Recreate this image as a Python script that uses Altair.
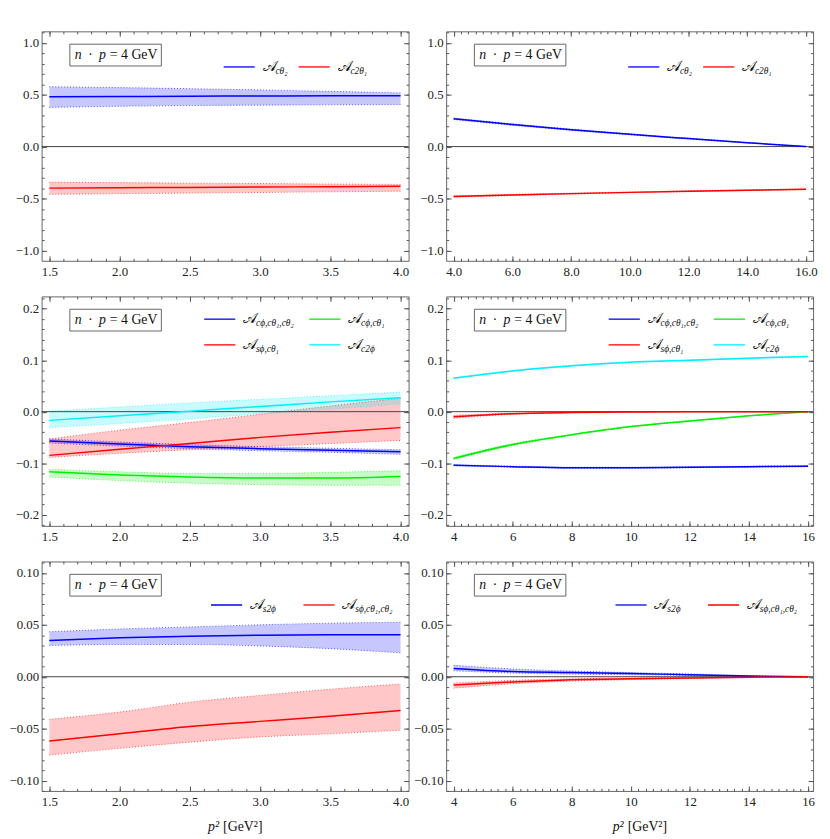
import altair as alt
import pandas as pd

W, H = 371, 232
REFW = 377.0
K = W / REFW

# ---------------- data ----------------
x_left = [1.5, 2.0, 2.5, 3.0, 3.5, 4.0]
x_right = [4, 6, 8, 10, 12, 14, 16]

# top-left
tl_b_mid = [0.479, 0.482, 0.485, 0.487, 0.489, 0.490]
tl_b_hi = [0.577, 0.568, 0.558, 0.546, 0.532, 0.517]
tl_b_lo = [0.377, 0.388, 0.395, 0.399, 0.402, 0.405]
tl_r_mid = [-0.400, -0.397, -0.393, -0.390, -0.386, -0.383]
tl_r_hi = [-0.342, -0.347, -0.352, -0.356, -0.360, -0.364]
tl_r_lo = [-0.460, -0.454, -0.448, -0.442, -0.436, -0.430]

# top-right
tr_b_mid = [0.268, 0.212, 0.163, 0.118, 0.077, 0.037, 0.0]
tr_b_hi = [0.276, 0.219, 0.169, 0.123, 0.081, 0.040, 0.001]
tr_b_lo = [0.260, 0.205, 0.157, 0.113, 0.073, 0.034, -0.001]
tr_r_mid = [-0.480, -0.466, -0.453, -0.441, -0.430, -0.420, -0.412]
tr_r_hi = [-0.473, -0.460, -0.448, -0.437, -0.426, -0.417, -0.409]
tr_r_lo = [-0.487, -0.472, -0.458, -0.445, -0.434, -0.423, -0.415]

# middle-left
ml_b_mid = [-0.057, -0.063, -0.068, -0.072, -0.075, -0.078]
ml_b_hi = [-0.053, -0.059, -0.064, -0.068, -0.071, -0.074]
ml_b_lo = [-0.061, -0.067, -0.072, -0.076, -0.079, -0.083]
ml_g_mid = [-0.117, -0.123, -0.127, -0.129, -0.129, -0.126]
ml_g_hi = [-0.112, -0.117, -0.120, -0.120, -0.118, -0.115]
ml_g_lo = [-0.127, -0.134, -0.139, -0.142, -0.143, -0.143]
ml_r_mid = [-0.085, -0.073, -0.062, -0.050, -0.040, -0.031]
ml_r_hi = [-0.053, -0.036, -0.021, -0.005, 0.011, 0.026]
ml_r_lo = [-0.089, -0.081, -0.074, -0.068, -0.062, -0.056]
ml_c_mid = [-0.017, -0.008, 0.001, 0.010, 0.019, 0.027]
ml_c_hi = [0.001, 0.009, 0.017, 0.024, 0.031, 0.038]
ml_c_lo = [-0.031, -0.023, -0.014, -0.004, 0.005, 0.015]

# middle-right
mr_b_mid = [-0.104, -0.107, -0.109, -0.109, -0.108, -0.107, -0.106]
mr_b_hi = [-0.103, -0.106, -0.108, -0.108, -0.107, -0.106, -0.105]
mr_b_lo = [-0.105, -0.108, -0.110, -0.110, -0.109, -0.108, -0.107]
mr_g_mid = [-0.091, -0.064, -0.045, -0.029, -0.018, -0.008, 0.0]
mr_g_hi = [-0.089, -0.062, -0.044, -0.028, -0.017, -0.0075, 0.0]
mr_g_lo = [-0.093, -0.066, -0.046, -0.030, -0.019, -0.0085, 0.0]
mr_r_mid = [-0.010, -0.004, -0.0015, -0.0007, -0.0002, 0.0, 0.0]
mr_r_hi = [-0.007, -0.003, -0.001, -0.0004, -0.0001, 0.0, 0.0]
mr_r_lo = [-0.013, -0.005, -0.002, -0.001, -0.0003, 0.0, 0.0]
mr_c_mid = [0.065, 0.079, 0.089, 0.096, 0.100, 0.104, 0.107]
mr_c_hi = [0.066, 0.080, 0.090, 0.097, 0.101, 0.105, 0.108]
mr_c_lo = [0.064, 0.078, 0.088, 0.095, 0.099, 0.103, 0.106]

# bottom-left
bl_b_mid = [0.0350, 0.0376, 0.0390, 0.0400, 0.0405, 0.0405]
bl_b_hi = [0.0433, 0.0460, 0.0480, 0.0500, 0.0516, 0.0525]
bl_b_lo = [0.0300, 0.0310, 0.0310, 0.0296, 0.0270, 0.0230]
bl_r_mid = [-0.0620, -0.0550, -0.0480, -0.0430, -0.0380, -0.0325]
bl_r_hi = [-0.0410, -0.0340, -0.0245, -0.0180, -0.0120, -0.0070]
bl_r_lo = [-0.0755, -0.0690, -0.0630, -0.0580, -0.0550, -0.0516]

# bottom-right
br_b_mid = [0.0080, 0.0050, 0.0040, 0.0030, 0.0020, 0.0007, 0.0]
br_b_hi = [0.0110, 0.0075, 0.0055, 0.0040, 0.0027, 0.0010, 0.0]
br_b_lo = [0.0057, 0.0035, 0.0025, 0.0020, 0.0013, 0.0004, 0.0]
br_r_mid = [-0.0080, -0.0050, -0.0030, -0.0020, -0.0012, -0.0005, 0.0]
br_r_hi = [-0.0060, -0.0035, -0.0020, -0.0013, -0.0007, -0.0002, 0.0]
br_r_lo = [-0.0110, -0.0068, -0.0042, -0.0028, -0.0017, -0.0008, 0.0]

# tick values
xl_major = [1.5, 2.0, 2.5, 3.0, 3.5, 4.0]
xl_minor = [round(1.5 + 0.1 * i, 2) for i in range(26)]
xr_major = [4, 6, 8, 10, 12, 14, 16]
xr_minor = [4 + 0.25 * i for i in range(49)]
y1_major = [-1.0, -0.5, 0.0, 0.5, 1.0]
y1_minor = [round(-1.0 + 0.1 * i, 2) for i in range(22)]
y2_major = [-0.2, -0.1, 0.0, 0.1, 0.2]
y2_minor = [round(-0.22 + 0.02 * i, 3) for i in range(23)]
y3_major = [-0.10, -0.05, 0.0, 0.05, 0.10]
y3_minor = [round(-0.11 + 0.01 * i, 3) for i in range(23)]

SERIES = ["blue", "red", "green", "cyan"]
COLORS = ["#0000ff", "#ff0000", "#00ee00", "#00eeff"]
BLUE, RED, GREEN, CYAN = COLORS
FONT = "Liberation Serif, Times New Roman, serif"
ONE = alt.Data(values=[{}])


def tick_axis(orient, values, offset, size):
    return alt.Axis(orient=orient, values=values, offset=offset, tickSize=size,
                    labels=False, domain=False, grid=False, title=None,
                    tickColor="#555", tickWidth=1, zindex=1)


def label_axis(orient, values, fmt, pad):
    return alt.Axis(orient=orient, values=values, format=fmt, ticks=False,
                    domain=False, grid=False, title=None, labelFont=FONT,
                    labelFontSize=13, labelColor="#222", labelPadding=pad)


def txt(s, x, y, size=14, italic=False, align="left"):
    return alt.Chart(ONE).mark_text(
        text=s, font=FONT, fontSize=size, fontStyle="italic" if italic else "normal",
        align=align, baseline="middle", color="#111"
    ).encode(x=alt.value(x), y=alt.value(y))


def legend_entry(color, x0, y, sub):
    rule = alt.Chart(ONE).mark_rule(color=color, strokeWidth=1.3).encode(
        x=alt.value(x0 * K), x2=alt.value((x0 + 32) * K), y=alt.value(y))
    big = txt("𝒜", (x0 + 40) * K, y - 1, size=15)
    small = txt(sub, (x0 + 40) * K + 13, y + 4, size=9.5, italic=True)
    return [rule, big, small]


def panel(xv, series, xdom, ydom, xmaj, xmin, ymaj, ymin, xfmt, yfmt, legend, xtitle=False):
    rows = []
    for name, mid, lo, hi in series:
        for a, m, l, h in zip(xv, mid, lo, hi):
            rows.append({"x": a, "s": name, "mid": m, "lo": l, "hi": h})
    df = pd.DataFrame(rows)
    color = alt.Color("s:N", scale=alt.Scale(domain=SERIES, range=COLORS), legend=None)
    xs = alt.Scale(domain=xdom, nice=False, zero=False)
    ys = alt.Scale(domain=ydom, nice=False, zero=False)
    base = alt.Chart(df)

    band = base.mark_area(opacity=0.22, interpolate="monotone").encode(
        x=alt.X("x:Q", scale=xs, axis=label_axis("bottom", xmaj, xfmt, 5)),
        y=alt.Y("lo:Q", scale=ys, stack=None, axis=label_axis("left", ymaj, yfmt, 3)),
        y2="hi:Q", color=color)
    dot_hi = base.mark_line(strokeDash=[1, 2], strokeWidth=1, opacity=0.6, interpolate="monotone").encode(
        x=alt.X("x:Q", scale=xs, axis=tick_axis("top", xmaj, -H, 5)),
        y=alt.Y("hi:Q", scale=ys, axis=tick_axis("right", ymaj, -W, 5)),
        color=color)
    dot_lo = base.mark_line(strokeDash=[1, 2], strokeWidth=1, opacity=0.6, interpolate="monotone").encode(
        x=alt.X("x:Q", scale=xs, axis=tick_axis("top", xmin, -H, 2.5)),
        y=alt.Y("lo:Q", scale=ys, axis=tick_axis("right", ymin, -W, 2.5)),
        color=color)
    zero = alt.Chart(ONE).mark_rule(color="#444", strokeWidth=1).encode(
        y=alt.YDatum(0, axis=None, scale=ys))
    line = base.mark_line(strokeWidth=1.5, interpolate="monotone").encode(
        x=alt.X("x:Q", scale=xs, axis=tick_axis("bottom", xmaj, -H, 5)),
        y=alt.Y("mid:Q", scale=ys, axis=tick_axis("left", ymaj, -W, 5)),
        color=color)
    ghost = base.mark_point(opacity=0).encode(
        x=alt.X("x:Q", scale=xs, axis=tick_axis("bottom", xmin, -H, 2.5)),
        y=alt.Y("mid:Q", scale=ys, axis=tick_axis("left", ymin, -W, 2.5)))

    box = alt.Chart(ONE).mark_rect(fill="white", stroke="#666", strokeWidth=1).encode(
        x=alt.value(29 * K), x2=alt.value(123 * K), y=alt.value(13), y2=alt.value(35))
    t1 = txt("n\u2002·\u2002p", 34 * K, 24, italic=True)
    t2 = txt("= 4 GeV", 70 * K, 24)

    layers = [band, dot_hi, dot_lo, zero, line, ghost, box, t1, t2]
    for (c, x0, y, sub) in legend:
        layers += legend_entry(c, x0, y, sub)
    if xtitle:
        layers.append(txt("p²", W / 2 - 6, H + 36, italic=True, align="right"))
        layers.append(txt("[GeV²]", W / 2 - 2, H + 36))
    return alt.layer(*layers).resolve_axis(x="independent", y="independent").properties(width=W, height=H)


leg1 = [(BLUE, 187, 36, "cθ₂"), (RED, 264, 36, "c2θ₁")]
leg2 = [(BLUE, 167, 23, "cϕ,cθ₁,cθ₂"), (GREEN, 275, 23, "cϕ,cθ₁"),
        (RED, 167, 49, "sϕ,cθ₁"), (CYAN, 275, 49, "c2ϕ")]
leg3 = [(BLUE, 174, 44, "s2ϕ"), (RED, 269, 44, "sϕ,cθ₁,cθ₂")]

TL = panel(x_left, [("blue", tl_b_mid, tl_b_lo, tl_b_hi), ("red", tl_r_mid, tl_r_lo, tl_r_hi)],
           [1.445, 4.057], [-1.1, 1.11], xl_major, xl_minor, y1_major, y1_minor, ".1f", ".1f", leg1)
TR = panel(x_right, [("blue", tr_b_mid, tr_b_lo, tr_b_hi), ("red", tr_r_mid, tr_r_lo, tr_r_hi)],
           [3.744, 16.24], [-1.1, 1.11], xr_major, xr_minor, y1_major, y1_minor, ".1f", ".1f", leg1)
ML = panel(x_left, [("blue", ml_b_mid, ml_b_lo, ml_b_hi), ("green", ml_g_mid, ml_g_lo, ml_g_hi),
                    ("red", ml_r_mid, ml_r_lo, ml_r_hi), ("cyan", ml_c_mid, ml_c_lo, ml_c_hi)],
           [1.445, 4.057], [-0.222, 0.224], xl_major, xl_minor, y2_major, y2_minor, ".1f", ".1f", leg2)
MR = panel(x_right, [("blue", mr_b_mid, mr_b_lo, mr_b_hi), ("green", mr_g_mid, mr_g_lo, mr_g_hi),
                     ("red", mr_r_mid, mr_r_lo, mr_r_hi), ("cyan", mr_c_mid, mr_c_lo, mr_c_hi)],
           [3.747, 16.17], [-0.222, 0.224], xr_major, xr_minor, y2_major, y2_minor, "d", ".1f", leg2)
BL = panel(x_left, [("blue", bl_b_mid, bl_b_lo, bl_b_hi), ("red", bl_r_mid, bl_r_lo, bl_r_hi)],
           [1.445, 4.057], [-0.11, 0.111], xl_major, xl_minor, y3_major, y3_minor, ".1f", ".2f", leg3, xtitle=True)
BR = panel(x_right, [("blue", br_b_mid, br_b_lo, br_b_hi), ("red", br_r_mid, br_r_lo, br_r_hi)],
           [3.747, 16.17], [-0.11, 0.111], xr_major, xr_minor, y3_major, y3_minor, "d", ".2f", leg3, xtitle=True)

left = alt.vconcat(TL, ML, BL, spacing=16)
right = alt.vconcat(TR, MR, BR, spacing=16)
chart = alt.hconcat(left, right, spacing=3).properties(
    padding={"left": 0, "top": 18, "right": 4, "bottom": 0}
).configure_view(stroke="#666", strokeWidth=1)

chart.save("out.html", embed_options={"renderer": "svg", "actions": False})
